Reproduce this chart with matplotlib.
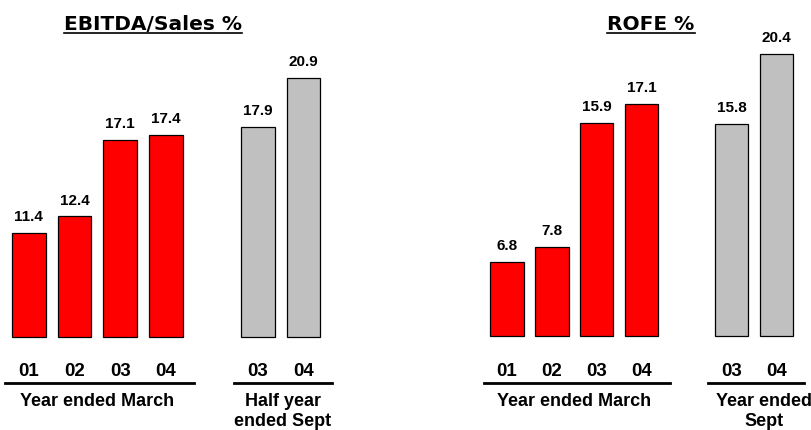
import matplotlib
matplotlib.use("Agg")
import matplotlib.pyplot as plt
from matplotlib.lines import Line2D

# EBITDA / Sales %
ebitda_years = ["01", "02", "03", "04"]
ebitda_year_vals = [11.4, 12.4, 17.1, 17.4]
ebitda_half_years = ["03", "04"]
ebitda_half_vals = [17.9, 20.9]

# ROFE %
rofe_years = ["01", "02", "03", "04"]
rofe_year_vals = [6.8, 7.8, 15.9, 17.1]
rofe_half_years = ["03", "04"]
rofe_half_vals = [15.8, 20.4]

W, H = 812, 430
RED = "#ff0000"
GREY = "#c0c0c0"
label_font = "Liberation Sans"

fig = plt.figure(figsize=(W / 100, H / 100), dpi=100)


def panel(x0_px, first_px, unit_px, base, px_per_unit, base_px,
          years, year_vals, halves, half_vals, group1, group2, group2_x):
    # axes spans the full figure height so y fractions are figure pixels / H
    ax = fig.add_axes([x0_px / W, 0, (W / 2) / W, 1])
    left = -(first_px - x0_px) / unit_px
    ax.set_xlim(left, left + (W / 2) / unit_px)
    ybot = base - base_px / px_per_unit
    ax.set_ylim(ybot, ybot + H / px_per_unit)
    ax.axis("off")

    xs_a = list(range(len(years)))
    xs_b = [len(years) + 1 + i for i in range(len(halves))]
    ax.bar(xs_a, [v - base for v in year_vals], bottom=base, width=0.74,
           color=RED, edgecolor="black", linewidth=0.9)
    ax.bar(xs_b, [v - base for v in half_vals], bottom=base, width=0.74,
           color=GREY, edgecolor="black", linewidth=0.9)

    for x, v in zip(xs_a + xs_b, year_vals + half_vals):
        ax.annotate(f"{v:.1f}", (x, v), xytext=(0, 8.6), textcoords="offset points",
                    ha="center", va="baseline", fontsize=11, fontweight="bold",
                    family=label_font)

    tr = ax.get_xaxis_transform()
    for x, t in zip(xs_a + xs_b, years + halves):
        ax.text(x, 53.5 / H, t, transform=tr, ha="center", va="baseline",
                fontsize=13.5, fontweight="bold", family=label_font)

    for xs in (xs_a, xs_b):
        ax.add_line(Line2D([xs[0] - 0.52, xs[-1] + 0.62], [47.5 / H] * 2,
                           transform=tr, color="black", linewidth=2,
                           clip_on=False))

    # group captions, one text per line
    for gx, caption in (((xs_a[0] + xs_a[-1]) / 2, group1), (group2_x, group2)):
        for i, line in enumerate(caption.split("\n")):
            ax.text(gx, (24.5 - 21 * i) / H, line, transform=tr,
                    ha="center", va="baseline", fontsize=13,
                    fontweight="bold", family=label_font)
    return ax


panel(0, 28.7, 45.8, 5.0, 16.25, 93.3,
      ebitda_years, ebitda_year_vals, ebitda_half_years, ebitda_half_vals,
      "Year ended March", "Half year\nended Sept", 5.55)
panel(406, 507, 44.9, 2.0, 15.35, 94.0,
      rofe_years, rofe_year_vals, rofe_half_years, rofe_half_vals,
      "Year ended March", "Year ended\nSept", 5.72)

titles = [
    fig.text(153 / W, 400 / H, "EBITDA/Sales %", ha="center", va="baseline",
             fontsize=14.5, fontweight="bold", family="DejaVu Sans"),
    fig.text(651 / W, 400 / H, "ROFE %", ha="center", va="baseline",
             fontsize=14.5, fontweight="bold", family="DejaVu Sans"),
]

# underline the titles
fig.canvas.draw()
renderer = fig.canvas.get_renderer()
for t in titles:
    bb = t.get_window_extent(renderer)
    fig.add_artist(Line2D([bb.x0 / W, bb.x1 / W], [397 / H] * 2,
                          transform=fig.transFigure, color="black",
                          linewidth=1.2))

fig.savefig("out.png", dpi=100)
